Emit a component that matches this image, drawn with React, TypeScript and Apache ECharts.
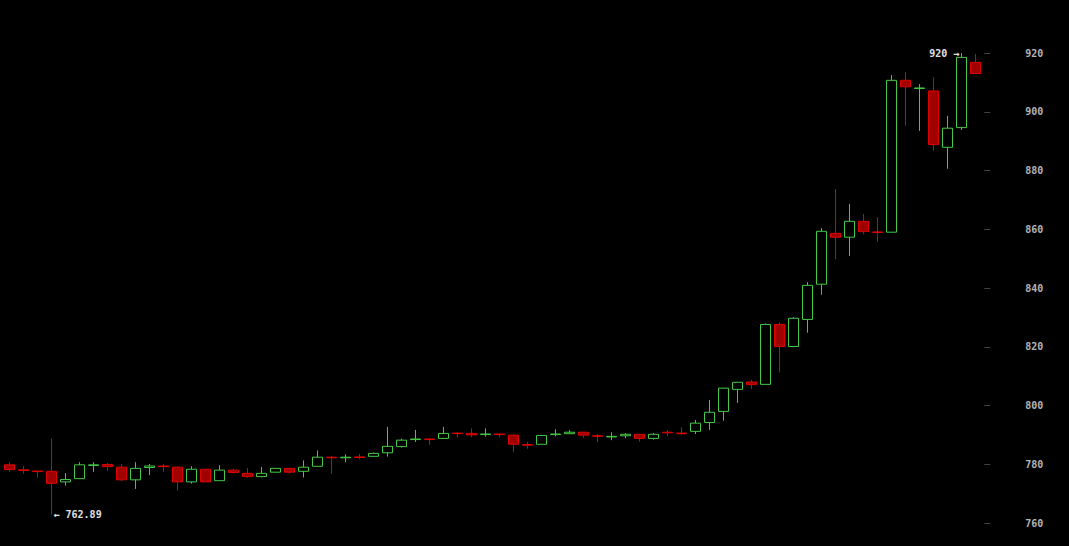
import React, { useEffect, useRef } from "react";
import * as echarts from "echarts";

// Candle values (70 periods)
const opens = [
  779.8, 778.1, 777.7, 777.6, 774.0, 775.1, 779.6, 779.9, 779.0, 774.7,
  778.9, 779.4, 779.0, 774.0, 778.3, 774.4, 778.0, 776.9, 775.8, 777.3,
  778.6, 777.6, 779.3, 782.4, 782.2, 782.5, 782.7, 783.9, 786.0, 788.4,
  788.6, 788.8, 790.6, 790.5, 790.1, 790.3, 789.9, 786.7, 786.8, 790.1,
  790.4, 790.9, 789.7, 789.3, 789.7, 790.2, 788.8, 790.9, 790.6, 791.2,
  794.2, 798.0, 805.5, 808.0, 807.2, 827.6, 820.1, 829.3, 841.3, 858.6,
  857.3, 862.7, 859.1, 859.0, 910.7, 907.9, 907.1, 887.9, 894.6, 916.8,
];
const closes = [
  778.2, 777.9, 777.5, 773.5, 774.8, 779.8, 779.8, 779.2, 774.7, 778.6,
  779.4, 779.2, 774.0, 778.3, 774.0, 778.0, 777.2, 775.8, 776.9, 778.6,
  777.3, 779.0, 782.4, 782.2, 782.4, 782.3, 783.7, 786.1, 788.2, 788.6,
  788.4, 790.5, 790.4, 790.0, 790.3, 790.1, 786.8, 786.5, 789.8, 790.3,
  790.9, 789.9, 789.5, 789.5, 790.2, 788.8, 790.2, 790.7, 790.4, 794.0,
  797.7, 805.9, 807.9, 807.1, 827.6, 820.1, 829.7, 840.9, 859.3, 857.3,
  862.7, 859.2, 858.9, 910.7, 908.5, 908.1, 888.8, 894.4, 918.5, 913.0,
];
const lows = [
  777.4, 776.8, 775.4, 762.89, 772.7, 775.1, 777.4, 777.7, 774.3, 771.6,
  776.3, 777.4, 771.0, 773.4, 773.9, 774.4, 776.9, 775.4, 775.6, 777.2,
  776.8, 775.5, 779.2, 776.8, 780.7, 781.7, 782.6, 782.6, 785.7, 787.6,
  786.6, 788.7, 789.1, 789.2, 789.4, 789.1, 784.1, 785.3, 786.7, 789.5,
  790.3, 789.0, 787.5, 788.2, 788.9, 787.7, 788.4, 789.6, 790.0, 790.3,
  791.7, 794.8, 800.9, 805.6, 807.2, 811.2, 820.0, 824.8, 837.7, 849.8,
  850.9, 858.3, 855.8, 858.9, 895.3, 893.5, 886.7, 880.6, 893.8, 913.0,
];
const highs = [
  780.7, 779.4, 777.8, 788.7, 777.0, 780.7, 780.7, 780.4, 780.1, 780.7,
  780.1, 780.1, 779.4, 779.3, 778.4, 779.7, 778.5, 778.7, 779.1, 778.7,
  778.7, 781.3, 784.7, 782.8, 783.4, 783.5, 784.0, 792.7, 788.7, 791.7,
  788.9, 792.7, 791.0, 792.2, 792.2, 790.4, 790.2, 787.6, 789.9, 791.9,
  791.6, 791.0, 790.3, 790.9, 790.6, 790.3, 790.6, 791.6, 792.6, 795.1,
  801.9, 806.0, 808.0, 808.7, 827.9, 828.3, 830.1, 842.0, 860.4, 873.7,
  868.6, 865.2, 864.1, 912.5, 913.5, 909.4, 911.8, 898.6, 920.0, 919.7,
];
// Period index labels (the x axis is not labelled in the reference)
const categories = opens.map((_, i) => String(i + 1));

const yMin = 760;
const yMax = 920;
const yStep = 20;

export default function App() {
  const ref = useRef<HTMLDivElement>(null);
  useEffect(() => {
    if (!ref.current) return;
    const chart = echarts.init(ref.current, null, { renderer: "svg" });
    const data = opens.map((o, i) => [o, closes[i], lows[i], highs[i]]);
    const mono = "'DejaVu Sans Mono', monospace";
    chart.setOption({
      animation: false,
      backgroundColor: "#000000",
      grid: { left: 2.5, right: 86.7, top: 53, bottom: 23 },
      xAxis: {
        type: "category",
        data: categories,
        boundaryGap: true,
        axisLine: { show: false },
        axisTick: { show: false },
        axisLabel: { show: false },
        splitLine: { show: false },
      },
      yAxis: {
        type: "value",
        position: "right",
        min: yMin,
        max: yMax,
        interval: yStep,
        offset: 2,
        axisLine: { show: false },
        axisTick: { show: true, length: 6, lineStyle: { color: "#444444", width: 1 } },
        axisLabel: {
          margin: 41,
          color: "#b4b4b4",
          fontFamily: mono,
          fontSize: 10,
          fontWeight: "bold",
        },
        splitLine: { show: false },
      },
      series: [
        {
          type: "candlestick",
          data,
          barWidth: 10,
          itemStyle: {
            color: "#000000",
            color0: "#a00000",
            borderColor: "#44c944",
            borderColor0: "#dd0000",
            borderWidth: 1,
          },
          markPoint: {
            symbol: "circle",
            symbolSize: 0,
            itemStyle: { color: "transparent" },
            data: [
              {
                type: "max",
                valueDim: "highest",
                label: {
                  show: true,
                  position: "left",
                  distance: 2,
                  formatter: (p: any) => `${p.value} →`,
                  color: "#e0e0e0",
                  fontFamily: mono,
                  fontSize: 10,
                  fontWeight: "bold",
                },
              },
              {
                type: "min",
                valueDim: "lowest",
                label: {
                  show: true,
                  position: "right",
                  distance: 2,
                  formatter: (p: any) => `← ${p.value}`,
                  color: "#e0e0e0",
                  fontFamily: mono,
                  fontSize: 10,
                  fontWeight: "bold",
                },
              },
            ],
          },
        },
      ],
    });
    return () => chart.dispose();
  }, []);
  return (
    <div
      ref={ref}
      style={{ position: "fixed", left: 0, top: 0, width: 1069, height: 546, background: "#000" }}
    />
  );
}
